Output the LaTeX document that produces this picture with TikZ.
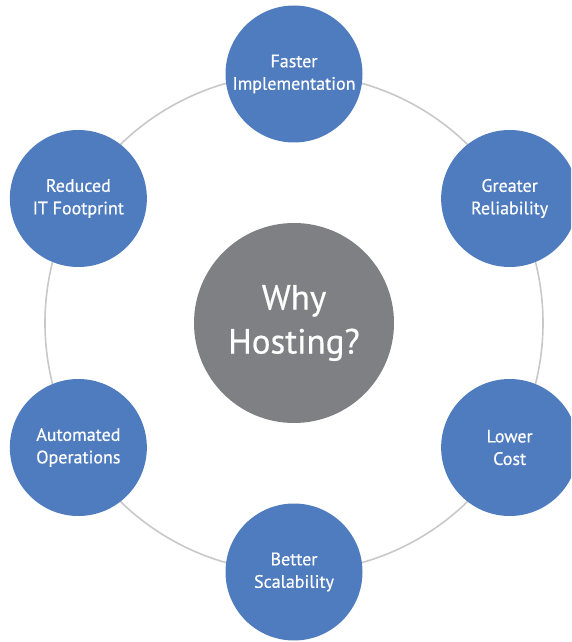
\documentclass[tikz,border=0pt]{standalone}
\usepackage{fontspec}
\setmainfont{PT Sans}
\newfontfamily\labelfont{PT Sans}[FakeBold=0.5]
\usepackage{tikz}
\usetikzlibrary{positioning}
\definecolor{benefitblue}{HTML}{4F7CBF}
\definecolor{hubgray}{HTML}{7F8083}
\definecolor{ringgray}{HTML}{C8C8C8}

\begin{document}
\begin{tikzpicture}[x=1pt,y=1pt,
    benefit/.style={circle,fill=benefitblue,text=white,minimum size=137pt,inner sep=0pt,
        align=center,font=\labelfont\fontsize{18}{22.5}\selectfont},
    hub/.style={circle,fill=hubgray,text=white,minimum size=200pt,inner sep=0pt,
        align=center,font=\labelfont\fontsize{35}{44}\selectfont}]
        \path[use as bounding box,clip] (-294,-319) rectangle (277,323);
        \node[hub] (why) at (0,0) {Why\\Hosting?};
        \draw[ringgray,line width=1.6pt] (why.center) circle (249);
        \node[benefit] (fast) at (90:249)  {Faster\\Implementation};
        \node[benefit] (rel)  at (30:249)  {Greater\\Reliability};
        \node[benefit] (cost) at (-30:249) {Lower\\Cost};
        \node[benefit] (scal) at (-90:249) {Better\\Scalability};
        \node[benefit] (auto) at (210:249) {Automated\\Operations};
        \node[benefit] (foot) at (150:249) {Reduced\\IT Footprint};
    \end{tikzpicture}
\end{document}
